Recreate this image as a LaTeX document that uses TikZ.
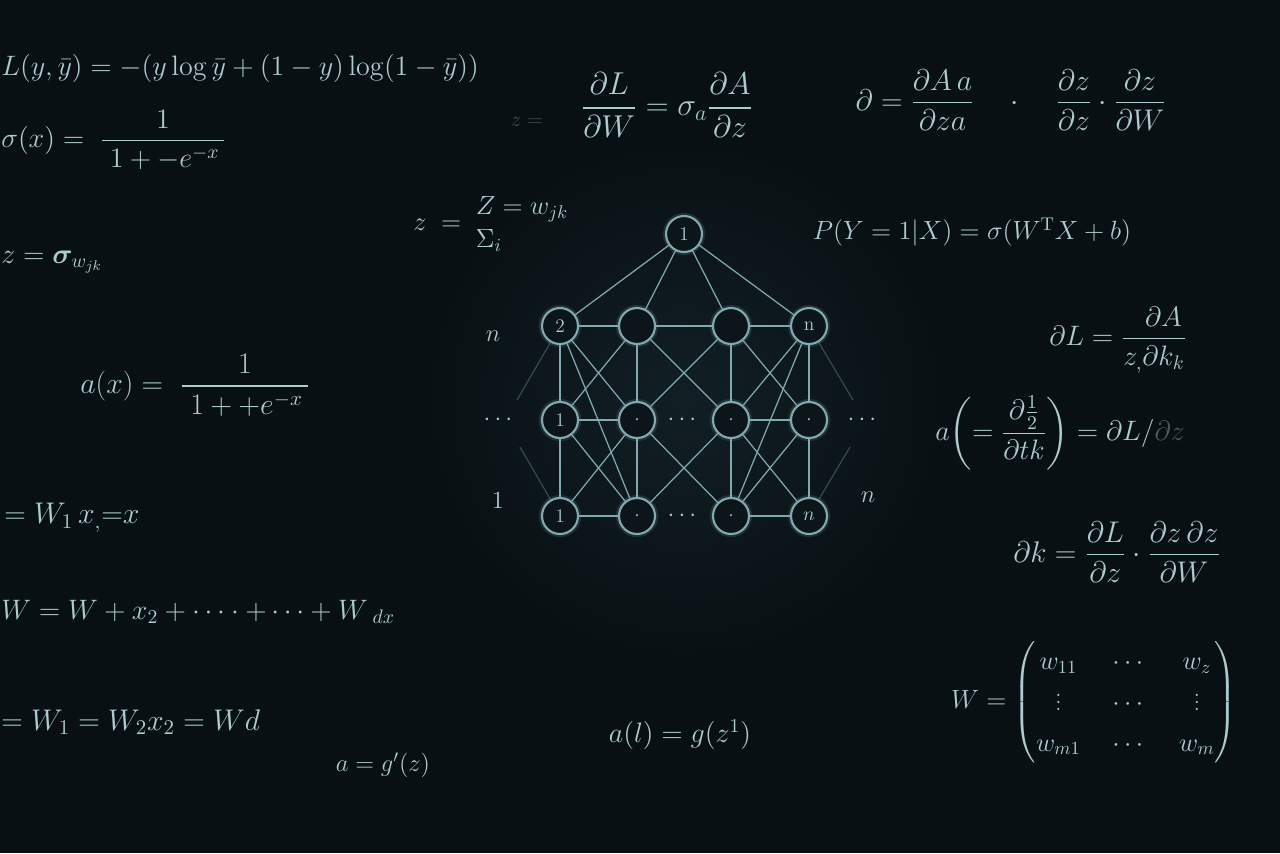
\RequirePackage{fix-cm}
\documentclass[tikz,border=0pt]{standalone}
\usepackage{amsmath}
\usepackage{bm}
\usetikzlibrary{positioning}

\definecolor{bg}{RGB}{9,16,20}
\definecolor{glow}{RGB}{17,31,36}
\definecolor{chalk}{RGB}{172,204,208}
\definecolor{wire}{RGB}{128,170,176}
\newcommand{\eqsz}[1]{\fontsize{#1}{#1}\selectfont}

\tikzset{
    eq/.style={text=chalk, inner sep=0pt},
    neuron/.style={draw=wire, circle, line width=1.2pt, minimum size=0.72cm, inner sep=0pt,
        fill=bg!60!glow, text=chalk, font=\eqsz{11},
        preaction={draw=wire, line width=3.5pt, opacity=0.18}},
    edge/.style={draw=wire, line width=0.7pt},
}

\begin{document}
\begin{tikzpicture}[x=0.02cm, y=-0.02cm]
    \useasboundingbox (0,0) rectangle (1280,853);
    \fill[bg] (0,0) rectangle (1280,853);
    % 网络背后的光晕
    \shade[inner color=glow, outer color=bg] (684,400) circle (5.2cm);

    % 左侧公式
    \node[eq, anchor=west, font=\eqsz{16}] (loss) at (1,68) {$L(y,\bar{y}) = -(y\log\bar{y} + (1-y)\log(1-\bar{y}))$};
    \node[eq, anchor=west, font=\eqsz{16}] (sig) at (1,140) {$\sigma(x) = \;\dfrac{1}{\;1+-e^{-x}\,}$};
    \node[eq, anchor=west, font=\eqsz{16}] (zs) at (1,262) {$z = \bm{\sigma}_{w_{jk}}$};
    \node[eq, anchor=west, font=\eqsz{17}] (act) at (80,385) {$a(x) = \;\dfrac{1}{\;1++e^{-x}\,}$};
    \node[eq, anchor=west, font=\eqsz{17}] (lin) at (4,518) {$= W_1\,x_{,}{=}x$};
    \node[eq, anchor=west, font=\eqsz{16}] (wsum) at (1,612) {$W = W + x_2 + \cdots\cdot + \cdots + W\,{}_{dx}$};
    \node[eq, anchor=west, font=\eqsz{17}] (wch) at (1,722) {$= W_1 = W_2 x_2 = Wd$};

    % 中间公式
    \node[eq, anchor=west, font=\eqsz{15}] (zsum) at (413,224) {\renewcommand\arraystretch{1.25}$z \;=\; \begin{array}{@{}l@{}} Z = w_{jk}\\ \Sigma_i \end{array}$};
    \node[eq, font=\eqsz{12}, opacity=0.35] (zghost) at (527,122) {$z =$};
    \node[eq, font=\eqsz{18}] (grad) at (667,105) {$\dfrac{\partial L}{\partial W} = \sigma_a \dfrac{\partial A}{\partial z}$};
    \node[eq, font=\eqsz{14}] (gprime) at (383,765) {$a = g'(z)$};
    \node[eq, font=\eqsz{16}] (alz) at (680,735) {$a(l) = g(z^1)$};

    % 右侧公式
    \node[eq, font=\eqsz{17}] (chain) at (1011,100) {$\partial = \dfrac{\partial A\,a}{\partial z a} \quad\cdot\quad \dfrac{\partial z}{\partial z}\cdot\dfrac{\partial z}{\partial W}$};
    \node[eq, font=\eqsz{15}] (prob) at (972,232) {$P(Y=1|X) = \sigma(W^{\mathrm{T}}X+b)$};
    \node[eq, font=\eqsz{16}] (dLdA) at (1118,340) {$\partial L = \dfrac{\phantom{z_,}\partial A}{z_{,}\partial k_k}$};
    \node[eq, font=\eqsz{16}] (aeq) at (1060,433) {$a\!\left(=\dfrac{\partial\frac{1}{2}}{\partial tk}\right) = \partial L/{\color{chalk!40!bg}\partial z}$};
    \node[eq, font=\eqsz{17}] (dk) at (1117,552) {$\partial k = \dfrac{\partial L}{\partial z}\cdot\dfrac{\partial z\,\partial z}{\partial W}$};
    \node[eq, font=\eqsz{15}] (wmat) at (1094,702) {\setlength\arraycolsep{9pt}\renewcommand\arraystretch{1.55}$W = \begin{pmatrix} w_{11} & \cdots & w_z\\ \vdots & \cdots & \vdots\\ w_{m1} & \cdots & w_m \end{pmatrix}$};

    % 神经网络
    \node[neuron] (T) at (684,234) {1};
    \foreach \x/\a/\b/\c [count=\i] in {560/2/1/1, 637//$\cdot$/$\cdot$, 731//$\cdot$/$\cdot$, 809/n/$\cdot$/$n$} {
        \node[neuron] (H\i) at (\x,326) {\a};
        \node[neuron] (M\i) at (\x,420) {\b};
        \node[neuron] (B\i) at (\x,516) {\c};
    }
    \foreach \a/\b in {T/H1,T/H2,T/H3,T/H4, H1/H2,H2/H3,H3/H4, M1/M2,M3/M4, B1/B2,B3/B4,
        H1/M1,M1/B1,H2/M2,M2/B2,H3/M3,M3/B3,H4/M4,M4/B4,
        H1/M2,H1/B2,H2/M1,H2/M3,H3/M2,H3/M4,H4/M3,H4/B3,
        M1/B2,M2/B1,M2/B3,M3/B2,M3/B4,M4/B3} {
        \draw[edge] (\a) -- (\b);
    }
    % 两侧淡线
    \coordinate (lA) at (517,400);
    \coordinate (lB) at (520,447);
    \coordinate (rA) at (853,400);
    \coordinate (rB) at (850,447);
    \draw[edge, opacity=0.35] (H1) -- (lA);
    \draw[edge, opacity=0.35] (B1) -- (lB);
    \draw[edge, opacity=0.35] (H4) -- (rA);
    \draw[edge, opacity=0.35] (B4) -- (rB);

    % 网络旁的标记
    \node[eq, font=\eqsz{14}] (mdots) at (684,420) {$\cdots$};
    \node[eq, font=\eqsz{14}] (bdots) at (684,516) {$\cdots$};
    \node[eq, font=\eqsz{14}] (ln) at (493,336) {$n$};
    \node[eq, font=\eqsz{14}] (ldots) at (500,420) {$\cdots$};
    \node[eq, font=\eqsz{14}] (l1) at (498,500) {1};
    \node[eq, font=\eqsz{14}] (rdots) at (864,420) {$\cdots$};
    \node[eq, font=\eqsz{14}] (rn) at (868,497) {$n$};
\end{tikzpicture}
\end{document}
